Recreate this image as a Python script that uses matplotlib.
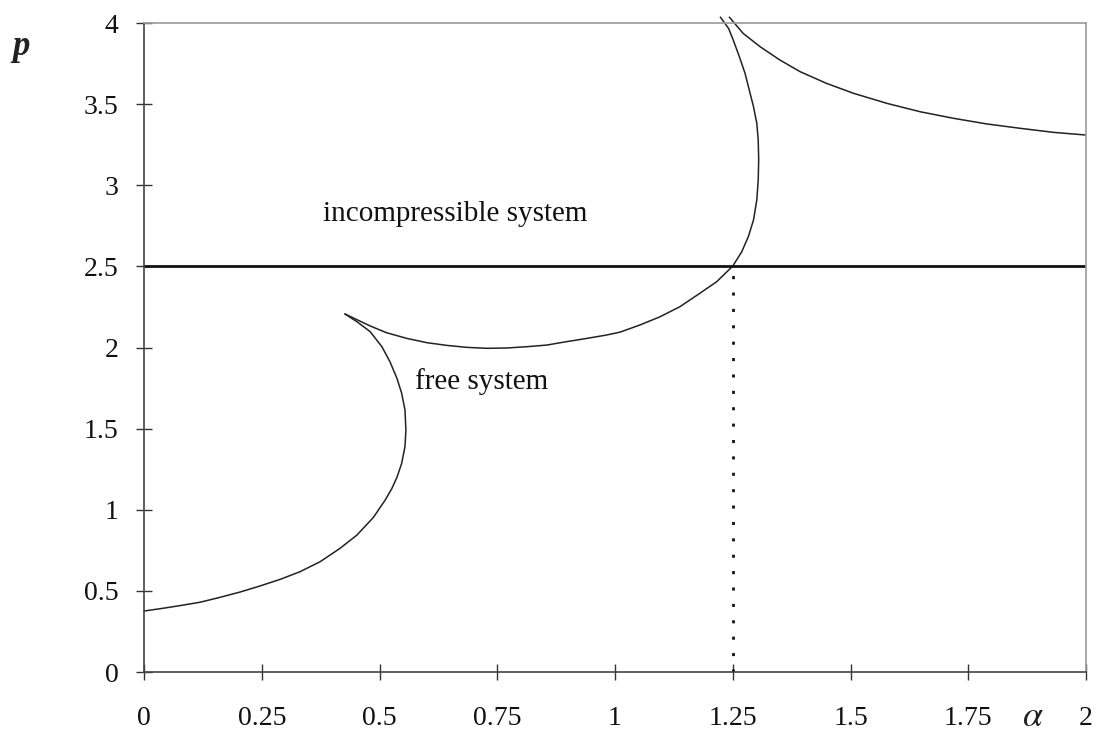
import matplotlib
matplotlib.use("Agg")
import matplotlib.pyplot as plt

# lower-left branch: from alpha=0 up to the cusp
free_a = [0.0, 0.034, 0.076, 0.119, 0.161, 0.204, 0.246, 0.289, 0.331, 0.374, 0.416, 0.452,
          0.487, 0.512, 0.526, 0.537, 0.547, 0.554, 0.556, 0.554, 0.547, 0.537, 0.522, 0.505,
          0.480, 0.452, 0.427]
free_p = [0.376, 0.390, 0.409, 0.430, 0.460, 0.493, 0.530, 0.571, 0.618, 0.680, 0.762, 0.844,
          0.953, 1.06, 1.13, 1.20, 1.286, 1.389, 1.491, 1.615, 1.718, 1.810, 1.913, 2.005,
          2.098, 2.159, 2.206]

# from the cusp through the crossing at p=2.5 and up past the top
mid_a = [0.427, 0.480, 0.515, 0.558, 0.600, 0.643, 0.685, 0.728, 0.770, 0.813, 0.855, 0.897,
         0.940, 0.982, 1.011, 1.053, 1.096, 1.138, 1.180, 1.216, 1.250, 1.269, 1.283, 1.294,
         1.301, 1.304, 1.305, 1.304, 1.301, 1.294, 1.285, 1.276, 1.264, 1.251, 1.241, 1.224]
mid_p = [2.206, 2.133, 2.091, 2.056, 2.030, 2.013, 2.001, 1.995, 1.997, 2.005, 2.015, 2.036,
         2.056, 2.077, 2.095, 2.139, 2.190, 2.252, 2.334, 2.406, 2.502, 2.590, 2.683, 2.786,
         2.909, 3.032, 3.156, 3.279, 3.382, 3.484, 3.587, 3.690, 3.792, 3.895, 3.967, 4.035]

# upper-right branch
upper_a = [1.243, 1.272, 1.308, 1.350, 1.393, 1.449, 1.506, 1.577, 1.648, 1.718, 1.789,
           1.860, 1.931, 1.998]
upper_p = [4.035, 3.936, 3.854, 3.772, 3.700, 3.628, 3.567, 3.505, 3.453, 3.413, 3.378,
           3.351, 3.326, 3.310]

p_limit = 2.5
alpha_cross = 1.25

x_ticks = [0, 0.25, 0.5, 0.75, 1, 1.25, 1.5, 1.75, 2]
x_labels = ["0", "0.25", "0.5", "0.75", "1", "1.25", "1.5", "1.75", "2"]
y_ticks = [0, 0.5, 1, 1.5, 2, 2.5, 3, 3.5, 4]
y_labels = ["0", "0.5", "1", "1.5", "2", "2.5", "3", "3.5", "4"]

plt.rcParams['font.family'] = ['Liberation Serif', 'DejaVu Serif']
plt.rcParams['mathtext.fontset'] = 'stix'

fig = plt.figure(figsize=(10.97, 7.35), dpi=100)
ax = fig.add_axes([0.1313, 0.0857, 0.8587, 0.883])

ax.plot(free_a, free_p, color='#222222', lw=1.1, clip_on=False)
ax.plot(mid_a, mid_p, color='#222222', lw=1.1, clip_on=False)
ax.plot(upper_a, upper_p, color='#222222', lw=1.1, clip_on=False)
ax.axhline(p_limit, color='#111111', lw=2.0)
ax.plot([alpha_cross, alpha_cross], [0, p_limit], color='#111111', lw=2.0,
        linestyle=(0, (1.1, 4.8)))

ax.set_xlim(0, 2)
ax.set_ylim(0, 4)
ax.set_xticks(x_ticks)
ax.set_xticklabels(x_labels, fontsize=20)
ax.set_yticks(y_ticks)
ax.set_yticklabels(y_labels, fontsize=20)
ax.tick_params(axis='y', direction='inout', length=11, width=1, pad=13, colors='#333333',
               labelcolor='#111111')
ax.tick_params(axis='x', direction='inout', length=11, width=1, pad=19, colors='#333333',
               labelcolor='#111111')

for s in ['left', 'bottom']:
    ax.spines[s].set_color('#444444')
    ax.spines[s].set_linewidth(1.2)
for s in ['top', 'right']:
    ax.spines[s].set_color('#999999')
    ax.spines[s].set_linewidth(1.2)

ax.text(0.38, 2.82, "incompressible system", fontsize=21, va='center', ha='left', color='#111111')
ax.text(0.575, 1.79, "free system", fontsize=21, va='center', ha='left', color='#111111')

fig.text(0.011, 0.925, "p", fontsize=25, style='italic', fontweight='bold', color='#222222')
fig.text(0.942, 0.002, r"$\alpha$", fontsize=26, ha='center', va='bottom', color='#222222')

fig.savefig("out.png", dpi=100)
